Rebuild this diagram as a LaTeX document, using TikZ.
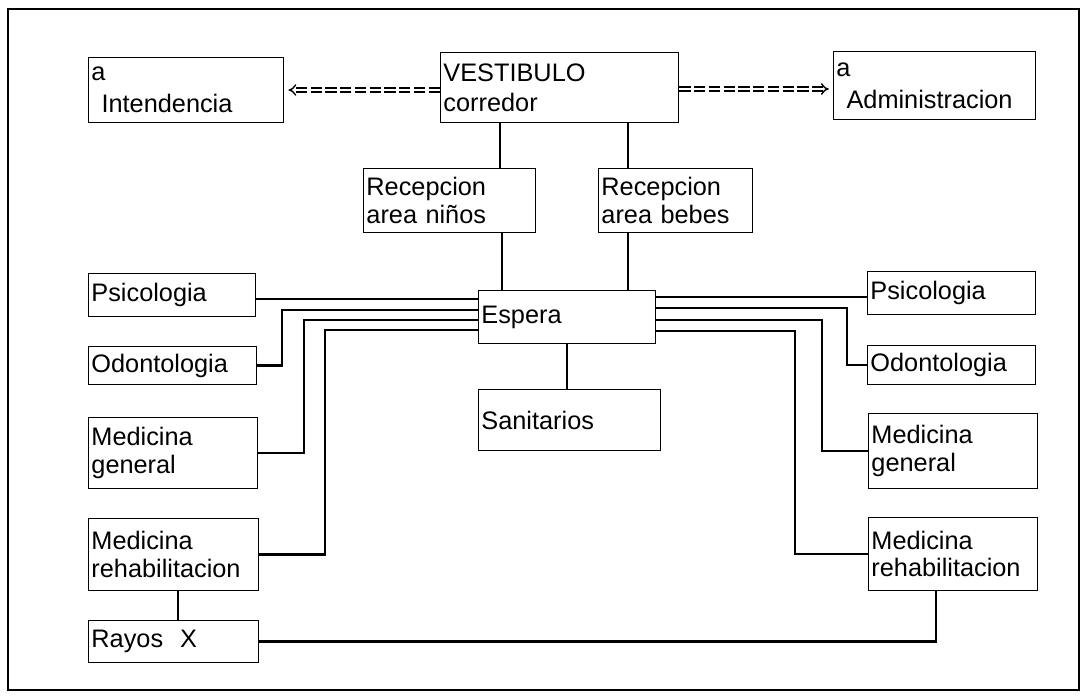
\documentclass[tikz,border=0pt]{standalone}
\usepackage{fontspec}
\setmainfont{Liberation Sans}
\usetikzlibrary{arrows.meta}

\newcommand*{\roomfont}{\fontsize{18}{19.5}\selectfont}

\begin{document}
\begin{tikzpicture}
[
	x=0.025cm,
	y=-0.025cm,
	room/.style 2 args={draw,line width=0.9pt,anchor=north west,align=left,inner xsep=2pt,inner ysep=1pt,text width=#1*0.025cm-4pt,minimum height=#2*0.025cm,font=\roomfont},
	duct/.style={line width=1.8pt},
	passage/.style={double,double distance=1.7pt,line width=1pt,dash pattern=on 8pt off 2.5pt,-{Implies[scale=3]},shorten >=3pt}
]

	\useasboundingbox (0,0) rectangle (1084,696);
	\draw[line width=0.8pt] (8,9) rectangle (1079,690);

	% rails and corners of the corridors
	\coordinate (arrl) at (0,90);
	\coordinate (arrr) at (0,89);
	\coordinate (vnin) at (500,0);
	\coordinate (vnin2) at (502,0);
	\coordinate (vbeb) at (628,0);
	\coordinate (vsan) at (567,0);
	\coordinate (vray) at (178,0);
	\coordinate (vrr) at (936,0);
	\coordinate (lrail1) at (0,299);
	\coordinate (lrail2) at (282,310);
	\coordinate (lrail3) at (304,320);
	\coordinate (lrail4) at (325,330);
	\coordinate (rrail1) at (0,297);
	\coordinate (rrail2) at (847,308);
	\coordinate (rrail3) at (822,320);
	\coordinate (rrail4) at (795,331);

	% top row
	\node[room={195}{65}] (intend) at (88,57) {a\\[3pt]\hspace*{0.4em}Intendencia};
	\node[room={238}{70}] (vest) at (440,52) {VESTIBULO\\[2pt]corredor};
	\node[room={202}{68}] (admin) at (833,51) {a\\[3pt]\hspace*{0.4em}Administracion};

	\draw[passage] (vest.west |- arrl) -- (intend.east |- arrl);
	\draw[passage] (vest.east |- arrr) -- (admin.west |- arrr);

	% reception and waiting
	\node[room={172}{64}] (recnin) at (363,168) {Recepcion\\area niños};
	\node[room={154}{64}] (recbeb) at (598,168) {Recepcion\\area bebes};
	\node[room={177}{53}] (espera) at (478,290) {Espera};
	\node[room={182}{61}] (sanit) at (478,389) {Sanitarios};

	\draw[duct] (vest.south -| vnin) -- (recnin.north -| vnin);
	\draw[duct] (vest.south -| vbeb) -- (recbeb.north -| vbeb);
	\draw[duct] (recnin.south -| vnin2) -- (espera.north -| vnin2);
	\draw[duct] (recbeb.south -| vbeb) -- (espera.north -| vbeb);
	\draw[duct] (espera.south -| vsan) -- (sanit.north -| vsan);

	% left wing
	\node[room={167}{43}] (psiL) at (88,273) {Psicologia};
	\node[room={168}{38}] (odoL) at (88,346) {Odontologia};
	\node[room={169}{71}] (mgL) at (88,417) {Medicina\\general};
	\node[room={170}{72}] (mrL) at (88,518) {Medicina\\rehabilitacion};
	\node[room={170}{42}] (rayos) at (88,620) {Rayos~~X};

	\draw[duct] (espera.west |- lrail1) -- (psiL.east |- lrail1);
	\draw[duct] (espera.west |- lrail2) -- (lrail2) |- (odoL.east);
	\draw[duct] (espera.west |- lrail3) -- (lrail3) |- (mgL.east);
	\draw[duct] (espera.west |- lrail4) -- (lrail4) |- (mrL.east);

	% right wing
	\node[room={168}{43}] (psiR) at (867,271) {Psicologia};
	\node[room={168}{39}] (odoR) at (867,345) {Odontologia};
	\node[room={169}{75}] (mgR) at (868,413) {Medicina\\general};
	\node[room={169}{73}] (mrR) at (868,517) {Medicina\\rehabilitacion};

	\draw[duct] (espera.east |- rrail1) -- (psiR.west |- rrail1);
	\draw[duct] (espera.east |- rrail2) -- (rrail2) |- (odoR.west);
	\draw[duct] (espera.east |- rrail3) -- (rrail3) |- (mgR.west);
	\draw[duct] (espera.east |- rrail4) -- (rrail4) |- (mrR.west);

	% x-ray
	\draw[duct] (mrL.south -| vray) -- (rayos.north -| vray);
	\draw[duct] (rayos.east) -| (mrR.south -| vrr);

\end{tikzpicture}
\end{document}
